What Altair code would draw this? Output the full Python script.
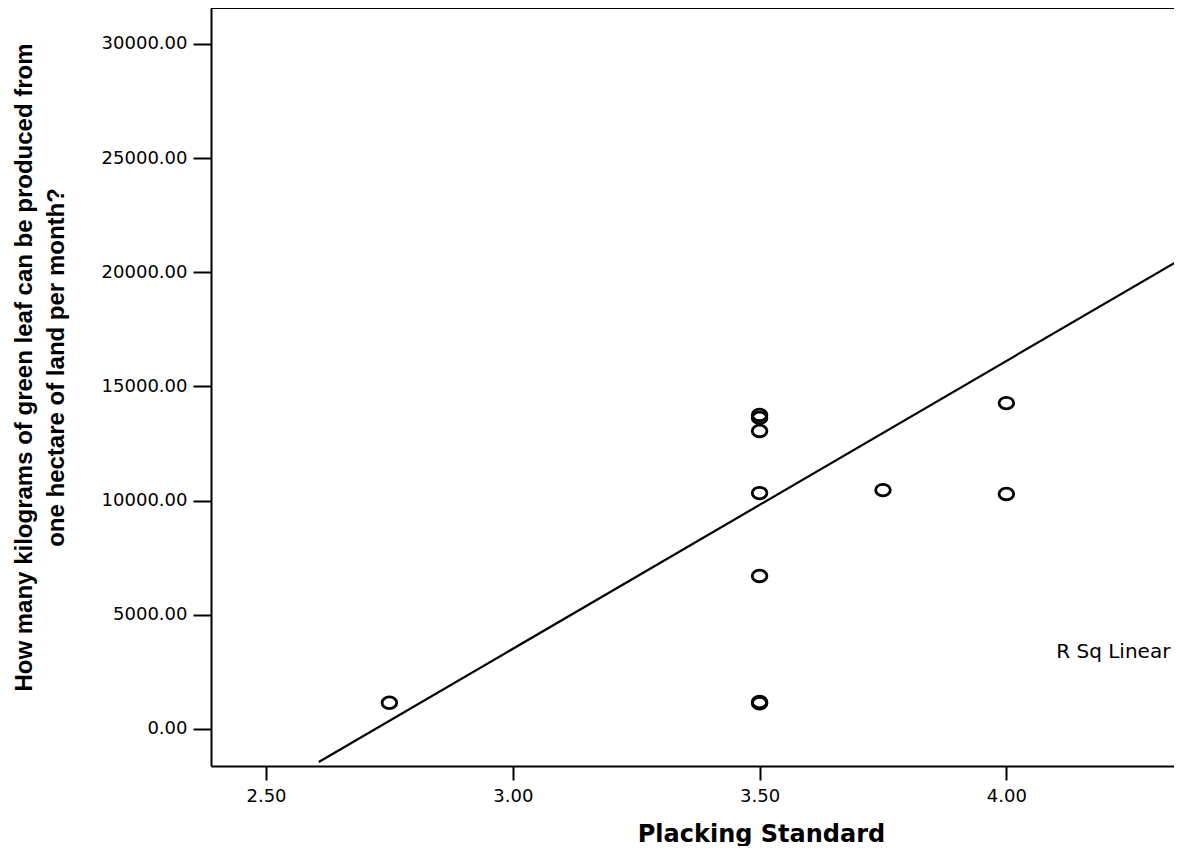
import altair as alt
import pandas as pd

# Scatter data
placking = [2.75, 3.50, 3.50, 3.50, 3.50, 3.50, 3.50, 3.50, 3.75, 4.00, 4.00]
kilograms = [1150, 1130, 1180, 6700, 10330, 13050, 13620, 13750, 10460, 14270, 10290]

# Fit line endpoints
fit_x = [2.607, 4.354]
fit_y = [-1445, 20578]

# Annotation
note_x = [4.101]
note_y = [3370]
note_text = ["R Sq Linear"]

x_ticks = [2.5, 3.0, 3.5, 4.0]
y_ticks = [0, 5000, 10000, 15000, 20000, 25000, 30000]
x_domain = [2.3886, 4.3396]
y_domain = [-1620, 31568]

W, H = 963, 758
FONT = "DejaVu Sans"
TFONT = "Liberation Sans"

pts = pd.DataFrame({"x": placking, "y": kilograms})
fit = pd.DataFrame({"x": fit_x, "y": fit_y})
note = pd.DataFrame({"x": note_x, "y": note_y, "t": note_text})

xs = alt.Scale(domain=x_domain, nice=False, zero=False)
ys = alt.Scale(domain=y_domain, nice=False, zero=False)

x_axis = alt.Axis(
    values=x_ticks, format=".2f", title="Placking Standard", grid=False,
    domainColor="black", domainWidth=2, tickColor="black", tickWidth=2, tickSize=14,
    labelFont=FONT, labelFontSize=18, labelColor="black", labelPadding=7,
    titleFont=FONT, titleFontSize=24, titleFontWeight="bold", titleColor="black",
    titleX=550, titleY=75, titleBaseline="alphabetic", titleAnchor="middle",
)
y_axis = alt.Axis(
    values=y_ticks, format=".2f",
    title=["How many kilograms of green leaf can be produced from", "one hectare of land per month?"],
    grid=False,
    domainColor="black", domainWidth=2, tickColor="black", tickWidth=2, tickSize=18,
    labelFont=FONT, labelFontSize=18, labelColor="black", labelPadding=6,
    titleFont=TFONT, titleFontSize=24, titleFontWeight="bold", titleColor="black",
    titleAngle=270, titleX=-187, titleY=359, titleBaseline="middle", titleAlign="center",
    titleLineHeight=32,
)

ellipse = "M -1 0 A 1 0.79 0 1 0 1 0 A 1 0.79 0 1 0 -1 0 Z"

points = alt.Chart(pts).mark_point(
    shape=ellipse, size=215, filled=False, color="black", strokeWidth=2.8, opacity=1
).encode(
    x=alt.X("x:Q", scale=xs, axis=x_axis),
    y=alt.Y("y:Q", scale=ys, axis=y_axis),
)

line = alt.Chart(fit).mark_line(color="black", strokeWidth=2.2, clip=True).encode(
    x=alt.X("x:Q", scale=xs),
    y=alt.Y("y:Q", scale=ys),
)

text = alt.Chart(note).mark_text(
    align="left", baseline="middle", font=FONT, fontSize=20, color="black"
).encode(
    x=alt.X("x:Q", scale=xs),
    y=alt.Y("y:Q", scale=ys),
    text="t:N",
)

top_border = alt.Chart(pd.DataFrame({"a": [0]})).mark_rule(color="black", strokeWidth=2).encode(
    x=alt.value(0), x2=alt.value(W), y=alt.value(0)
)

chart = alt.layer(line, points, text, top_border).properties(
    width=W, height=H,
    autosize=alt.AutoSizeParams(type="none"),
    padding={"left": 203, "top": 0, "right": 0, "bottom": 80},
).configure_view(stroke=None, fill="#eeeeee").configure(background="white")

chart.save("out.html", embed_options={"renderer": "svg", "actions": False})
